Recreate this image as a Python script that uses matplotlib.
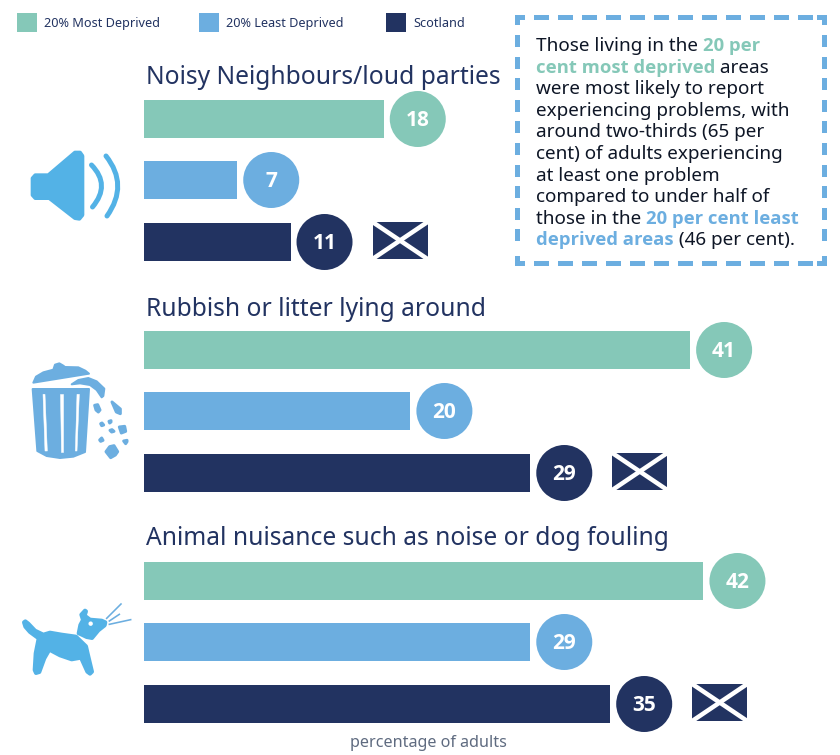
#!/usr/bin/python
# -*- coding: utf-8 -*-

import matplotlib
matplotlib.use('Agg')
import matplotlib.pyplot as plt
from matplotlib.patches import Circle, Polygon, PathPatch, Rectangle
from matplotlib.path import Path

# ---- datos
categories = ['Noisy Neighbours/loud parties',
              'Rubbish or litter lying around',
              'Animal nuisance such as noise or dog fouling']
series_names = ['20% Most Deprived', '20% Least Deprived', 'Scotland']
most_deprived = [18, 41, 42]
least_deprived = [7, 20, 29]
scotland = [11, 29, 35]
x_label = 'percentage of adults'

box_lines = [
    [('Those living in the ', 'k'), ('20 per', 'g')],
    [('cent most deprived', 'g'), (' areas', 'k')],
    [('were most likely to report', 'k')],
    [('experiencing problems, with', 'k')],
    [('around two-thirds (65 per', 'k')],
    [('cent) of adults experiencing', 'k')],
    [('at least one problem', 'k')],
    [('compared to under half of', 'k')],
    [('those in the ', 'k'), ('20 per cent least', 'b')],
    [('deprived areas', 'b'), (' (46 per cent).', 'k')],
]

GREEN = '#85C8B8'
BLUE = '#6CAEE0'
NAVY = '#223361'
ICON = '#53B2E6'
INK = '#0E1626'
FONT = ['Noto Sans', 'DejaVu Sans']
BOLD_FONT = ['Open Sans', 'DejaVu Sans']

W, H = 840, 755
X0 = 144
PX_PER_UNIT = 13.32
PT = 72.0 / 100  # px a puntos

plt.rcParams['font.family'] = FONT

fig = plt.figure(figsize=(W / 100, H / 100), dpi=100)

# ---- ejes en pixeles para decoracion
ax = fig.add_axes([0, 0, 1, 1])
ax.set_xlim(0, W)
ax.set_ylim(H, 0)
ax.axis('off')

# ---- ejes de barras, x en porcentaje
ax_bar = fig.add_axes([X0 / W, 0, 1 - X0 / W, 1], zorder=0)
ax_bar.set_xlim(0, (W - X0) / PX_PER_UNIT)
ax_bar.set_ylim(H, 0)
ax_bar.axis('off')
ax.set_zorder(1)
ax.patch.set_alpha(0)


def from_zoom(pts, ox, oy):
    return [(ox + x / 3.0, oy + y / 3.0) for x, y in pts]


def blob(pts, color, ox, oy, zorder=3, lw=2.0):
    ax.add_patch(Polygon(from_zoom(pts, ox, oy), closed=True, fc=color,
                         ec=color, lw=lw * PT, joinstyle='round',
                         zorder=zorder))


def arc(p0, p1, p2, lw):
    path = Path([p0, p1, p2], [Path.MOVETO, Path.CURVE3, Path.CURVE3])
    ax.add_patch(PathPatch(path, fc='none', ec=ICON, lw=lw * PT,
                           capstyle='round', zorder=3))


def speaker():
    pts = [(98, 535), (106, 526), (145, 526), (225, 458), (240, 458),
           (247, 468), (247, 645), (238, 656), (225, 654), (148, 594),
           (106, 594), (98, 585)]
    blob(pts, ICON, 0, 0, lw=4.0)
    arc((91.5, 165), (111, 185), (92.5, 207), 5)
    arc((106, 156), (129, 185), (107, 216), 5)


def trash_bin():
    ox, oy = 0, 340
    blob([(100, 128), (108, 110), (130, 97), (160, 89), (165, 74), (178, 70),
          (190, 77), (195, 81), (235, 82), (256, 92), (267, 101)],
         BLUE, ox, oy)
    blob([(98, 147), (267, 147), (255, 336), (220, 350), (180, 354),
          (140, 348), (112, 333)], BLUE, ox, oy)
    for slit in [[(129, 163), (135, 163), (142, 333), (135, 333)],
                 [(181, 163), (188, 163), (188, 335), (182, 335)],
                 [(231, 163), (238, 163), (231, 333), (226, 333)]]:
        blob(slit, 'white', ox, oy, zorder=4, lw=0.5)
    blob([(215, 133), (235, 120), (265, 114), (290, 124), (313, 146),
          (310, 168), (305, 172), (290, 150), (270, 135), (240, 130)],
         BLUE, ox, oy)
    for bit in [[(336, 186), (361, 207), (361, 221), (349, 216)],
                [(284, 196), (293, 194), (300, 210), (295, 216), (288, 210)],
                [(302, 251), (306, 249), (311, 255), (305, 257)],
                [(327, 244), (333, 242), (333, 246), (329, 249)],
                [(330, 271), (336, 269), (342, 274), (335, 276)],
                [(358, 261), (374, 259), (377, 274), (364, 279)],
                [(299, 300), (305, 294), (309, 301), (302, 304)],
                [(371, 303), (381, 301), (381, 305), (377, 311)],
                [(318, 335), (329, 320), (342, 317), (353, 335), (346, 345),
                 (332, 353)]]:
        blob(bit, BLUE, ox, oy, lw=3.0)


def dog():
    ox, oy = 0, 590
    blob([(72, 97), (76, 94), (85, 101), (105, 122), (130, 134), (150, 128),
          (185, 134), (228, 140), (258, 169), (264, 195), (276, 245),
          (270, 251), (262, 245), (243, 203), (215, 208), (180, 196),
          (148, 179), (133, 205), (118, 246), (108, 249), (104, 240),
          (107, 190), (116, 145), (90, 126), (76, 110)], ICON, ox, oy, lw=4.0)
    blob([(236, 130), (241, 105), (249, 90), (244, 74), (255, 62), (258, 64),
          (254, 77), (270, 89), (305, 92), (316, 97), (314, 106), (295, 121),
          (276, 144), (260, 141), (239, 131)], ICON, ox, oy, lw=4.0)
    ax.add_patch(Circle((ox + 272 / 3.0, oy + 101 / 3.0), 2.2, fc='white',
                        ec='none', zorder=4))
    for a, b in [((320, 85), (363, 42)), ((328, 93), (358, 73)),
                 ((328, 103), (392, 89))]:
        (x1, y1), (x2, y2) = from_zoom([a, b], ox, oy)
        ax.plot([x1, x2], [y1, y2], color=BLUE, lw=1.6 * PT, zorder=3)


def flag(x, y, w=55, h=37):
    rect = Rectangle((x, y), w, h, fc=NAVY, ec='none', zorder=3)
    ax.add_patch(rect)
    for yy in [(y, y + h), (y + h, y)]:
        line, = ax.plot([x, x + w], yy, color='white', lw=4.5 * PT, zorder=4)
        line.set_clip_path(rect)


def rich_line(x, y, parts, size):
    colors = {'k': INK, 'g': GREEN, 'b': BLUE}
    renderer = fig.canvas.get_renderer()
    for txt, c in parts:
        bold = c != 'k'
        t = ax.text(x, y, txt.replace(' ', '\u00a0'),
                    fontsize=size - 0.3 if bold else size,
                    family=BOLD_FONT if bold else FONT,
                    color=colors[c], va='baseline', ha='left',
                    fontweight='bold' if bold else 'normal', zorder=5)
        x = t.get_window_extent(renderer).x1


# ---- leyenda
legend_x = [17, 199, 386]
legend_colors = [GREEN, BLUE, NAVY]
for name, lx, col in zip(series_names, legend_x, legend_colors):
    ax.add_patch(Rectangle((lx, 13), 20, 19, fc=col, ec='none'))
    ax.text(lx + 27, 27, name, fontsize=9.15, color=NAVY, va='baseline')

# ---- barras
group_tops = [100, 331, 562]
title_base = [84, 316, 545]
row_offset = [0, 61, 123]
BAR_H = 38
for g, cat in enumerate(categories):
    ax.text(146, title_base[g], cat, fontsize=17.7, color=NAVY,
            va='baseline')
    vals = [most_deprived[g], least_deprived[g], scotland[g]]
    for r, v in enumerate(vals):
        top = group_tops[g] + row_offset[r]
        col = legend_colors[r]
        ax_bar.barh(top + BAR_H / 2.0, v, height=BAR_H, color=col, lw=0)
        cx = X0 + v * PX_PER_UNIT + 34
        cy = top + BAR_H / 2.0
        ax.add_patch(Circle((cx, cy), 28, fc=col, ec='none', zorder=3))
        ax.text(cx, cy - 1, str(v), color='white', fontsize=15,
                family=BOLD_FONT, fontweight='bold', ha='center',
                va='center_baseline', zorder=4)
        if r == 2:
            flag(cx + 48, top - 1)

speaker()
trash_bin()
dog()

ax.text(428.5, 747, x_label, fontsize=11.6, color='#5F6B80', ha='center',
        va='baseline')

# ---- recuadro punteado
bx0, bx1, by0, by1 = 515, 827, 15, 266
T = 5
c_len = 8
for x, y, w, h in [(bx0, by0, c_len + 2, T), (bx0, by0, T, c_len + 2),
                   (bx1 - c_len - 2, by0, c_len + 2, T), (bx1 - T, by0, T, c_len + 2),
                   (bx0, by1 - T, c_len + 2, T), (bx0, by1 - c_len - 2, T, c_len + 2),
                   (bx1 - c_len - 2, by1 - T, c_len + 2, T),
                   (bx1 - T, by1 - c_len - 2, T, c_len + 2)]:
    ax.add_patch(Rectangle((x, y), w, h, fc=BLUE, ec='none'))
xd = 533.5
while xd < bx1 - 25:
    for y in (by0, by1 - T):
        ax.add_patch(Rectangle((xd, y), 15, T, fc=BLUE, ec='none'))
    xd += 24
yd = 35
while yd < by1 - 22:
    for x in (bx0, bx1 - T):
        ax.add_patch(Rectangle((x, yd), T, 12, fc=BLUE, ec='none'))
    yd += 21.6

for i, parts in enumerate(box_lines):
    rich_line(536, 51 + i * 21.6, parts, 13.6)

fig.savefig('out.png', dpi=100)
